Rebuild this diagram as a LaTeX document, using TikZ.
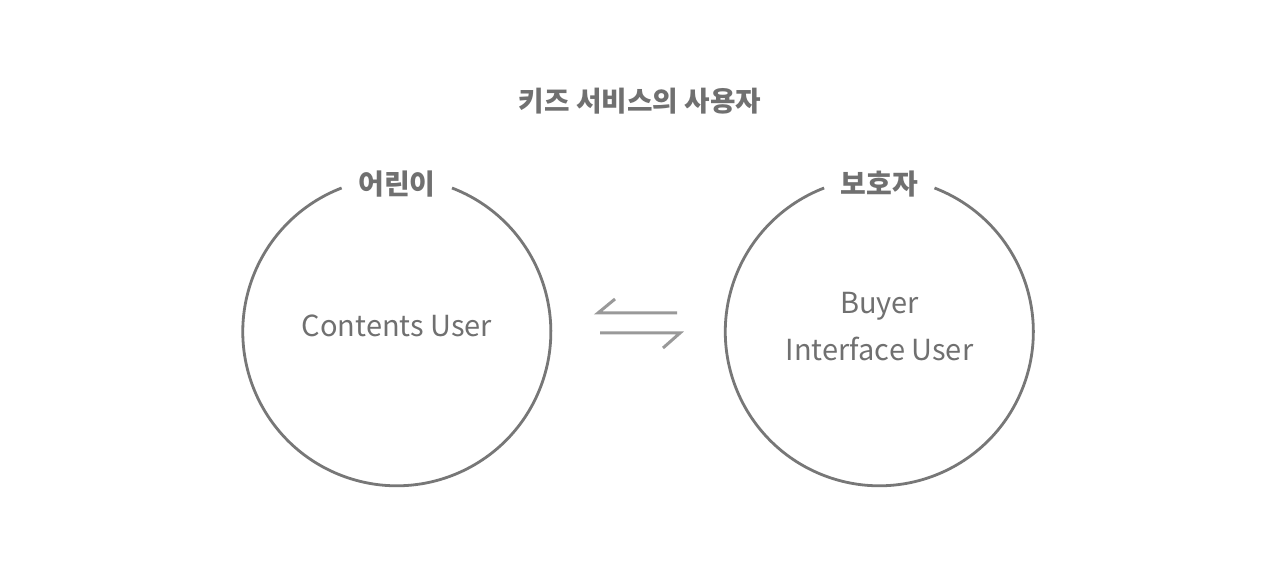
\documentclass[tikz,border=0pt]{standalone}
\usepackage{fontspec}
\setmainfont{Noto Sans CJK KR}
\definecolor{circ}{HTML}{777777}
\definecolor{txt}{HTML}{707070}
\definecolor{arr}{HTML}{999999}
\begin{document}
\begin{tikzpicture}[x=1pt,y=-1pt,
  ring/.style={draw=circ,line width=2.8pt},
  title/.style={text=txt,font=\fontsize{27.7}{30}\selectfont\bfseries},
  lbl/.style={text=txt,font=\fontsize{28}{30}\selectfont\bfseries},
  body/.style={text=txt,font=\fontsize{29}{34}\selectfont,align=center},
  arrowline/.style={draw=arr,line width=3pt}]
\useasboundingbox[fill=white] (0,0) rectangle (1280,569);
\coordinate (cl) at (397,332);
\coordinate (cr) at (879.5,332);
% circles with top gaps
\draw[ring] ([shift={(55,-144)}]cl) arc[start angle=69,end angle=-249,radius=154pt];
\draw[ring] ([shift={(55,-144)}]cr) arc[start angle=69,end angle=-249,radius=154pt];
\node[title] (t) at (640,101) {키즈 서비스의 사용자};
\node[lbl] (a) at (397,184) {어린이};
\node[lbl] (b) at (879.5,184) {보호자};
\node[body] (c) at (397,326) {Contents User};
\node[body] (d) at (879.5,327) {Buyer\\[13pt]Interface User};
% exchange arrows
\coordinate (a1) at (677,313);
\coordinate (a2) at (598,313);
\coordinate (a3) at (615,299);
\coordinate (b1) at (600,333);
\coordinate (b2) at (680,333);
\coordinate (b3) at (663,348);
\draw[arrowline] (a1) -- (a2) -- (a3);
\draw[arrowline] (b1) -- (b2) -- (b3);
\end{tikzpicture}
\end{document}
